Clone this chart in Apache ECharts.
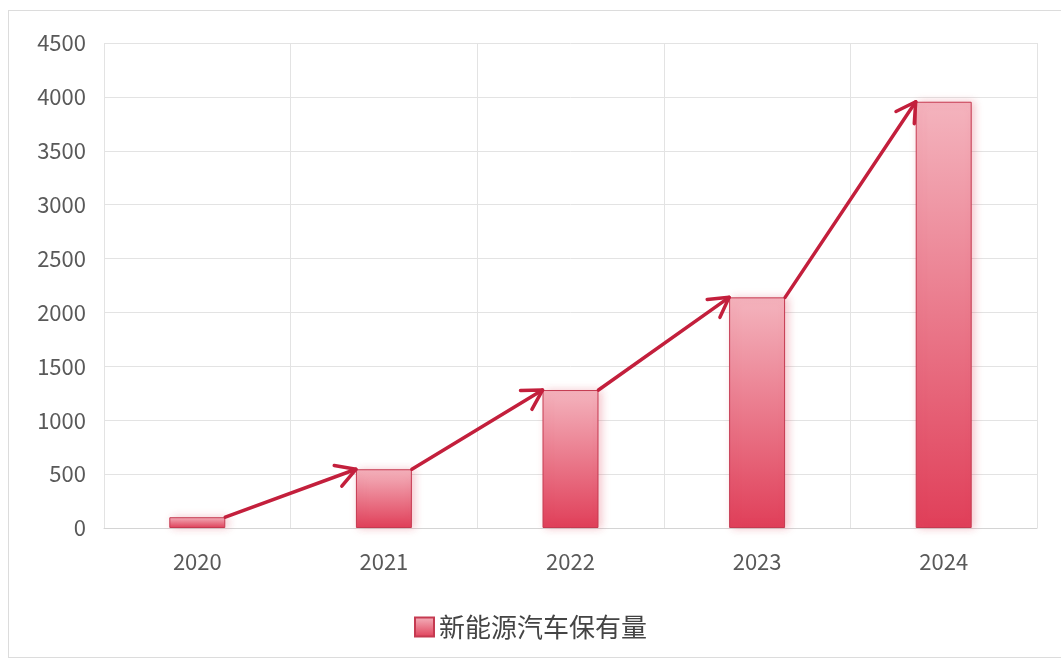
<!DOCTYPE html>
<html>
<head>
<meta charset="utf-8">
<script src="https://cdn.jsdelivr.net/npm/echarts@6/dist/echarts.min.js"></script>
<style>
  html, body { margin: 0; padding: 0; background: #fff; }
  #frame { position: absolute; left: 8px; top: 10px; width: 1060px; height: 648px; border: 1px solid #dcdcdc; box-sizing: border-box; }
  #chart { position: absolute; left: 0; top: 0; width: 1061px; height: 664px; }
</style>
</head>
<body>
<div id="frame"></div>
<div id="chart"></div>
<script>
// 年份与保有量
const years = ['2020', '2021', '2022', '2023', '2024']
const values = [100, 545, 1280, 2140, 3955]
const seriesName = '新能源汽车保有量'

// 箭头：从前一根柱子右上角指向后一根柱子左上角
const arrowData = values.slice(0, -1).map((v, i) => [i, v, values[i + 1]])

const BAR_RATIO = 0.3
const chart = echarts.init(document.getElementById('chart'))

function renderArrow(params, api) {
  const i = api.value(0)
  const p0 = api.coord([i, api.value(1)])
  const p1 = api.coord([i + 1, api.value(2)])
  const hw = api.size([1, 0])[0] * BAR_RATIO / 2
  const x0 = p0[0] + hw, y0 = p0[1]
  const x1 = p1[0] - hw, y1 = p1[1]
  const ang = Math.atan2(y1 - y0, x1 - x0)
  const len = 22, spread = Math.PI / 6
  const a1 = [x1 - len * Math.cos(ang - spread), y1 - len * Math.sin(ang - spread)]
  const a2 = [x1 - len * Math.cos(ang + spread), y1 - len * Math.sin(ang + spread)]
  const style = { stroke: '#c31f3c', lineWidth: 3.5, fill: null, lineCap: 'round', lineJoin: 'round' }
  return {
    type: 'group',
    children: [
      { type: 'line', shape: { x1: x0, y1: y0, x2: x1, y2: y1 }, style },
      { type: 'polyline', shape: { points: [a1, [x1, y1], a2] }, style }
    ]
  }
}

chart.setOption({
  animation: false,
  textStyle: { fontFamily: '"Noto Sans CJK SC", "Noto Sans", sans-serif' },
  grid: { left: 104, right: 24, top: 43, bottom: 136 },
  legend: {
    top: 609,
    left: 'center',
    icon: 'rect',
    itemWidth: 19,
    itemHeight: 19,
    itemGap: 6,
    textStyle: { fontSize: 26, color: '#444' },
    data: [seriesName]
  },
  xAxis: {
    type: 'category',
    data: years,
    axisLine: { lineStyle: { color: '#d4d4d4' } },
    axisTick: { show: false },
    axisLabel: { fontSize: 22, color: '#595959', margin: 23 },
    splitLine: { show: true, lineStyle: { color: '#e3e3e3' } }
  },
  yAxis: {
    type: 'value',
    min: 0,
    max: 4500,
    interval: 500,
    axisLine: { show: false },
    axisTick: { show: false },
    axisLabel: { fontSize: 22, color: '#595959', margin: 18, formatter: v => String(v) },
    splitLine: { lineStyle: { color: '#e3e3e3' } }
  },
  series: [
    {
      name: seriesName,
      type: 'bar',
      data: values,
      barWidth: (BAR_RATIO * 100) + '%',
      itemStyle: {
        color: new echarts.graphic.LinearGradient(0, 0, 0, 1, [
          { offset: 0, color: '#f4b4be' },
          { offset: 1, color: '#e03f59' }
        ]),
        borderColor: '#c53a51',
        borderWidth: 1,
        shadowColor: 'rgba(220, 70, 90, 0.3)',
        shadowBlur: 8,
        shadowOffsetX: 3
      }
    },
    {
      type: 'custom',
      renderItem: renderArrow,
      data: arrowData,
      encode: { x: 0, y: [1, 2] },
      z: 5,
      silent: true
    }
  ]
})
</script>
</body>
</html>
